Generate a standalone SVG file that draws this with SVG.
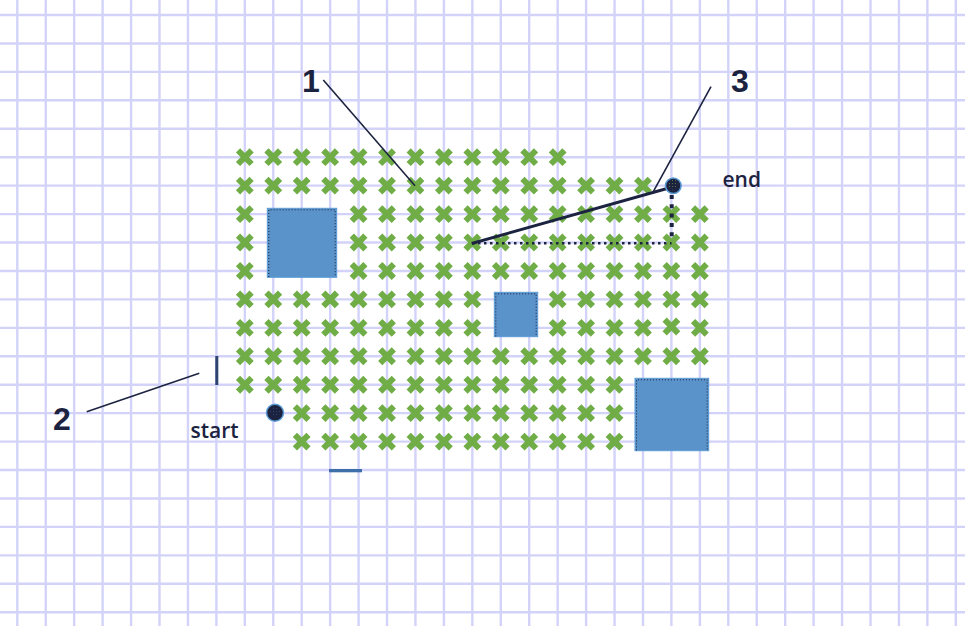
<svg xmlns="http://www.w3.org/2000/svg" width="965" height="626" viewBox="0 0 965 626">
<style>
.grid{stroke:#d3d3fa;stroke-width:2.4;fill:none}
.sq{fill:#5a93ca;stroke:#5b9bd5;stroke-width:1}
.sqd{fill:none;stroke:#1c2340;stroke-width:1;stroke-dasharray:1 2}
.lead{stroke:#1c2340;stroke-width:1.6;fill:none}
.path{stroke:#1c2340;fill:none}
.num{font-family:"Liberation Sans",Arial,sans-serif;font-weight:bold;font-size:32px;fill:#1c2340;text-anchor:middle}
.lbl{font-family:"Open Sans","Liberation Sans",sans-serif;font-weight:600;font-size:21px;fill:#1c2340}
.dot{fill:#1c2340;stroke:#5b9bd5;stroke-width:1.5}
</style>
<defs>
<g id="x"><path d="M-6.8-6.8L6.8 6.8M6.8-6.8L-6.8 6.8" stroke="#70ad47" stroke-width="6"/></g>
<pattern id="spG" width="3" height="3" patternUnits="userSpaceOnUse"><rect width="1" height="1" fill="#6f9a3c"/></pattern>
<pattern id="spB" width="3" height="3" patternUnits="userSpaceOnUse"><rect width="1" height="1" fill="#5b80b8"/></pattern>
</defs>
<rect width="965" height="626" fill="#ffffff"/>
<g id="grid">
<path class="grid" d="M17.3 0V626M45.74 0V626M74.18 0V626M102.62 0V626M131.06 0V626M159.5 0V626M187.94 0V626M216.38 0V626M244.82 0V626M273.26 0V626M301.7 0V626M330.14 0V626M358.58 0V626M387.02 0V626M415.46 0V626M443.9 0V626M472.34 0V626M500.78 0V626M529.22 0V626M557.66 0V626M586.1 0V626M614.54 0V626M642.98 0V626M671.42 0V626M699.86 0V626M728.3 0V626M756.74 0V626M785.18 0V626M813.62 0V626M842.06 0V626M870.5 0V626M898.94 0V626M927.38 0V626M955.82 0V626"/>
<path class="grid" d="M0 15H965M0 43.44H965M0 71.88H965M0 100.32H965M0 128.76H965M0 157.2H965M0 185.64H965M0 214.08H965M0 242.52H965M0 270.96H965M0 299.4H965M0 327.84H965M0 356.28H965M0 384.72H965M0 413.16H965M0 441.6H965M0 470.04H965M0 498.48H965M0 526.92H965M0 555.36H965M0 583.8H965M0 612.24H965"/>
</g>
<g id="marks">
<use href="#x" x="244.82" y="157.2"/><use href="#x" x="273.26" y="157.2"/><use href="#x" x="301.7" y="157.2"/><use href="#x" x="330.14" y="157.2"/><use href="#x" x="358.58" y="157.2"/><use href="#x" x="387.02" y="157.2"/><use href="#x" x="415.46" y="157.2"/><use href="#x" x="443.9" y="157.2"/><use href="#x" x="472.34" y="157.2"/><use href="#x" x="500.78" y="157.2"/><use href="#x" x="529.22" y="157.2"/><use href="#x" x="557.66" y="157.2"/>
<use href="#x" x="244.82" y="185.64"/><use href="#x" x="273.26" y="185.64"/><use href="#x" x="301.7" y="185.64"/><use href="#x" x="330.14" y="185.64"/><use href="#x" x="358.58" y="185.64"/><use href="#x" x="387.02" y="185.64"/><use href="#x" x="415.46" y="185.64"/><use href="#x" x="443.9" y="185.64"/><use href="#x" x="472.34" y="185.64"/><use href="#x" x="500.78" y="185.64"/><use href="#x" x="529.22" y="185.64"/><use href="#x" x="557.66" y="185.64"/><use href="#x" x="586.1" y="185.64"/><use href="#x" x="614.54" y="185.64"/><use href="#x" x="642.98" y="185.64"/>
<use href="#x" x="244.82" y="214.08"/><use href="#x" x="358.58" y="214.08"/><use href="#x" x="387.02" y="214.08"/><use href="#x" x="415.46" y="214.08"/><use href="#x" x="443.9" y="214.08"/><use href="#x" x="472.34" y="214.08"/><use href="#x" x="500.78" y="214.08"/><use href="#x" x="529.22" y="214.08"/><use href="#x" x="557.66" y="214.08"/><use href="#x" x="586.1" y="214.08"/><use href="#x" x="614.54" y="214.08"/><use href="#x" x="642.98" y="214.08"/><use href="#x" x="671.42" y="214.08"/><use href="#x" x="699.86" y="214.08"/>
<use href="#x" x="244.82" y="242.52"/><use href="#x" x="358.58" y="242.52"/><use href="#x" x="387.02" y="242.52"/><use href="#x" x="415.46" y="242.52"/><use href="#x" x="443.9" y="242.52"/><use href="#x" x="472.34" y="242.52"/><use href="#x" x="500.78" y="242.52"/><use href="#x" x="529.22" y="242.52"/><use href="#x" x="557.66" y="242.52"/><use href="#x" x="586.1" y="242.52"/><use href="#x" x="614.54" y="242.52"/><use href="#x" x="642.98" y="242.52"/><use href="#x" x="671.42" y="242.52"/><use href="#x" x="699.86" y="242.52"/>
<use href="#x" x="244.82" y="270.96"/><use href="#x" x="358.58" y="270.96"/><use href="#x" x="387.02" y="270.96"/><use href="#x" x="415.46" y="270.96"/><use href="#x" x="443.9" y="270.96"/><use href="#x" x="472.34" y="270.96"/><use href="#x" x="500.78" y="270.96"/><use href="#x" x="529.22" y="270.96"/><use href="#x" x="557.66" y="270.96"/><use href="#x" x="586.1" y="270.96"/><use href="#x" x="614.54" y="270.96"/><use href="#x" x="642.98" y="270.96"/><use href="#x" x="671.42" y="270.96"/><use href="#x" x="699.86" y="270.96"/>
<use href="#x" x="244.82" y="299.4"/><use href="#x" x="273.26" y="299.4"/><use href="#x" x="301.7" y="299.4"/><use href="#x" x="330.14" y="299.4"/><use href="#x" x="358.58" y="299.4"/><use href="#x" x="387.02" y="299.4"/><use href="#x" x="415.46" y="299.4"/><use href="#x" x="443.9" y="299.4"/><use href="#x" x="472.34" y="299.4"/><use href="#x" x="557.66" y="299.4"/><use href="#x" x="586.1" y="299.4"/><use href="#x" x="614.54" y="299.4"/><use href="#x" x="642.98" y="299.4"/><use href="#x" x="671.42" y="299.4"/><use href="#x" x="699.86" y="299.4"/>
<use href="#x" x="244.82" y="327.84"/><use href="#x" x="273.26" y="327.84"/><use href="#x" x="301.7" y="327.84"/><use href="#x" x="330.14" y="327.84"/><use href="#x" x="358.58" y="327.84"/><use href="#x" x="387.02" y="327.84"/><use href="#x" x="415.46" y="327.84"/><use href="#x" x="443.9" y="327.84"/><use href="#x" x="472.34" y="327.84"/><use href="#x" x="557.66" y="327.84"/><use href="#x" x="586.1" y="327.84"/><use href="#x" x="614.54" y="327.84"/><use href="#x" x="642.98" y="327.84"/><use href="#x" x="671.42" y="326.5"/><use href="#x" x="699.86" y="327.84"/>
<use href="#x" x="244.82" y="356.28"/><use href="#x" x="273.26" y="356.28"/><use href="#x" x="301.7" y="356.28"/><use href="#x" x="330.14" y="356.28"/><use href="#x" x="358.58" y="356.28"/><use href="#x" x="387.02" y="356.28"/><use href="#x" x="415.46" y="356.28"/><use href="#x" x="443.9" y="356.28"/><use href="#x" x="472.34" y="356.28"/><use href="#x" x="500.78" y="356.28"/><use href="#x" x="529.22" y="356.28"/><use href="#x" x="557.66" y="356.28"/><use href="#x" x="586.1" y="356.28"/><use href="#x" x="614.54" y="356.28"/><use href="#x" x="642.98" y="356.28"/><use href="#x" x="671.42" y="356.28"/><use href="#x" x="699.86" y="356.28"/>
<use href="#x" x="244.82" y="384.72"/><use href="#x" x="273.26" y="384.72"/><use href="#x" x="301.7" y="384.72"/><use href="#x" x="330.14" y="384.72"/><use href="#x" x="358.58" y="384.72"/><use href="#x" x="387.02" y="384.72"/><use href="#x" x="415.46" y="384.72"/><use href="#x" x="443.9" y="384.72"/><use href="#x" x="472.34" y="384.72"/><use href="#x" x="500.78" y="384.72"/><use href="#x" x="529.22" y="384.72"/><use href="#x" x="557.66" y="384.72"/><use href="#x" x="586.1" y="384.72"/><use href="#x" x="614.54" y="384.72"/>
<use href="#x" x="301.7" y="413.16"/><use href="#x" x="330.14" y="413.16"/><use href="#x" x="358.58" y="413.16"/><use href="#x" x="387.02" y="413.16"/><use href="#x" x="415.46" y="413.16"/><use href="#x" x="443.9" y="413.16"/><use href="#x" x="472.34" y="413.16"/><use href="#x" x="500.78" y="413.16"/><use href="#x" x="529.22" y="413.16"/><use href="#x" x="557.66" y="413.16"/><use href="#x" x="586.1" y="413.16"/><use href="#x" x="614.54" y="413.16"/>
<use href="#x" x="301.7" y="441.6"/><use href="#x" x="330.14" y="441.6"/><use href="#x" x="358.58" y="441.6"/><use href="#x" x="387.02" y="441.6"/><use href="#x" x="415.46" y="441.6"/><use href="#x" x="443.9" y="441.6"/><use href="#x" x="472.34" y="441.6"/><use href="#x" x="500.78" y="441.6"/><use href="#x" x="529.22" y="441.6"/><use href="#x" x="557.66" y="441.6"/><use href="#x" x="586.1" y="441.6"/><use href="#x" x="614.54" y="441.6"/>
</g>
<g id="obstacle1">
<rect class="sq" x="267.3" y="208.3" width="69.4" height="69"/>
<path class="sqd" d="M268.8 277V209.8H335.2V277"/>
</g>
<g id="obstacle2">
<rect class="sq" x="494.3" y="292.3" width="43.4" height="44.4"/>
<path class="sqd" d="M495.8 336.4V293.8H536.2V336.4"/>
</g>
<g id="obstacle3">
<rect class="sq" x="635" y="378.3" width="73.7" height="72.4"/>
<path class="sqd" d="M636.5 450.4V379.8H707.2V450.4"/>
</g>
<g id="connectors">
<path class="path" d="M472 243.3H671.5" stroke-width="2.5" stroke-dasharray="2.5 3.5"/>
<path class="path" d="M671.7 195V241" stroke-width="4" stroke-dasharray="4 5.3"/>
<line class="path" x1="471.7" y1="243.5" x2="671.5" y2="187.2" stroke-width="3"/>
<line class="lead" x1="323.3" y1="80" x2="415" y2="185.7"/>
<line class="lead" x1="711" y1="86.7" x2="653.3" y2="191.7"/>
<line class="lead" x1="86.7" y1="411.7" x2="199.3" y2="373.3"/>
</g>
<g id="end">
<circle class="dot" cx="673.3" cy="185.7" r="7.8"/>
<circle cx="673.3" cy="184.5" r="5" fill="url(#spG)" opacity="0.7"/>
<text class="lbl" x="722.5" y="186.5">end</text>
</g>
<g id="start">
<circle class="dot" cx="275" cy="412.8" r="8.5"/>
<circle cx="275" cy="411.5" r="5" fill="url(#spB)" opacity="0.35"/>
<text class="lbl" x="190.5" y="438">start</text>
</g>
<g id="bar-vertical"><rect x="215.3" y="356" width="3" height="29" fill="#2d4470"/></g>
<g id="bar-horizontal"><rect x="329" y="469" width="33" height="3.3" fill="#3e6fa8"/></g>
<g id="label1"><text class="num" x="311" y="92">1</text></g>
<g id="label2"><text class="num" x="62" y="430">2</text></g>
<g id="label3"><text class="num" x="740" y="92">3</text></g>
</svg>
